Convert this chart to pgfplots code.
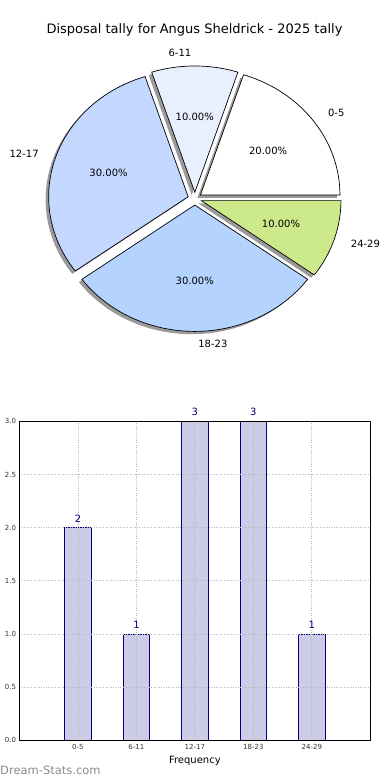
\documentclass[border=0pt]{standalone}
\usepackage{pgfplots}
\pgfplotsset{compat=1.18}
\usepackage{fontspec}
\setmainfont{DejaVu Sans}
\definecolor{cA}{HTML}{FFFFFF}
\definecolor{cB}{HTML}{E8F0FF}
\definecolor{cC}{HTML}{C4D8FF}
\definecolor{cD}{HTML}{B4D4FF}
\definecolor{cE}{HTML}{CDEA8A}
\definecolor{shad}{HTML}{9A9A9A}
\definecolor{barfill}{HTML}{CCCCE6}
\definecolor{baredge}{HTML}{000080}
\definecolor{gridc}{HTML}{B8B8B8}
\begin{document}
\begin{tikzpicture}
\useasboundingbox (0,0) rectangle (390pt,780pt);
% title
\node[font=\fontsize{13}{15}\selectfont] at (194.5pt,750pt) {Disposal tally for Angus Sheldrick - 2025 tally};
% ---------------- pie: counts 2,1,3,3,1 -> 20%,10%,30%,30%,10%
\begin{axis}[
  scale only axis, width=390.6pt, height=353.92pt,
  xmin=-1.4, xmax=1.4, ymin=-1.4, ymax=1.4,
  hide axis, clip=false,
  at={(194.8pt,581.3pt)}, anchor=center,
  every node/.append style={font=\fontsize{10}{12}\selectfont},
]
% shadows
\addplot[draw=none, fill=shad, domain=0:72, samples=60] ({0.0185+cos(x)},{0.0074+sin(x)}) -- (axis cs:0.0185,0.0074) -- cycle;
\addplot[draw=none, fill=shad, domain=72:108, samples=30] ({-0.022+cos(x)},{0.028+sin(x)}) -- (axis cs:-0.022,0.028) -- cycle;
\addplot[draw=none, fill=shad, domain=108:216, samples=80] ({-0.0696+cos(x)},{-0.0066+sin(x)}) -- (axis cs:-0.0696,-0.0066) -- cycle;
\addplot[draw=none, fill=shad, domain=216:324, samples=80] ({-0.022+cos(x)},{-0.072+sin(x)}) -- (axis cs:-0.022,-0.072) -- cycle;
\addplot[draw=none, fill=shad, domain=324:360, samples=30] ({0.0256+cos(x)},{-0.0375+sin(x)}) -- (axis cs:0.0256,-0.0375) -- cycle;
% wedges
\addplot[draw=black, line width=0.7pt, fill=cA, domain=0:72, samples=60] ({0.04045+cos(x)},{0.02939+sin(x)}) -- (axis cs:0.04045,0.02939) -- cycle;
\addplot[draw=black, line width=0.7pt, fill=cB, domain=72:108, samples=30] ({0+cos(x)},{0.05+sin(x)}) -- (axis cs:0,0.05) -- cycle;
\addplot[draw=black, line width=0.7pt, fill=cC, domain=108:216, samples=80] ({-0.04755+cos(x)},{0.01545+sin(x)}) -- (axis cs:-0.04755,0.01545) -- cycle;
\addplot[draw=black, line width=0.7pt, fill=cD, domain=216:324, samples=80] ({0+cos(x)},{-0.05+sin(x)}) -- (axis cs:0,-0.05) -- cycle;
\addplot[draw=black, line width=0.7pt, fill=cE, domain=324:360, samples=30] ({0.04755+cos(x)},{-0.01545+sin(x)}) -- (axis cs:0.04755,-0.01545) -- cycle;
% labels
\node[anchor=west] at (axis cs:0.9304,0.6760) {0-5};
\node[anchor=east] at (axis cs:0.0,1.15) {6-11};
\node[anchor=east] at (axis cs:-1.0937,0.3554) {12-17};
\node[anchor=west] at (axis cs:0.0,-1.15) {18-23};
\node[anchor=west] at (axis cs:1.0937,-0.3554) {24-29};
\node at (axis cs:0.5259,0.3821) {20.00\%};
\node at (axis cs:0.0,0.65) {10.00\%};
\node at (axis cs:-0.6182,0.2009) {30.00\%};
\node at (axis cs:0.0,-0.65) {30.00\%};
\node at (axis cs:0.6182,-0.2009) {10.00\%};
\end{axis}
% ---------------- bar chart
\begin{axis}[
  scale only axis, width=350.8pt, height=319pt,
  at={(19.5pt,39.7pt)}, anchor=south west,
  xmin=-1, xmax=5, ymin=0, ymax=3,
  xtick={0,1,2,3,4},
  xticklabels={0-5,6-11,12-17,18-23,24-29},
  ytick={0,0.5,1,1.5,2,2.5,3},
  /pgf/number format/assume math mode=true,
  yticklabel style={/pgf/number format/.cd, fixed, fixed zerofill, precision=1, assume math mode=true},
  ticklabel style={font=\fontsize{7}{8}\selectfont, text=black!80},
  major tick length=0pt,
  grid=major,
  major grid style={gridc, dotted, line width=0.9pt},
  axis line style={black, line width=0.9pt},
  axis on top,
  clip=false,
  xlabel={Frequency},
  xlabel style={font=\fontsize{10}{12}\selectfont},
]
\addplot[ybar, bar width=0.45, fill=barfill, draw=baredge, line width=0.8pt,
  nodes near coords,
  every node near coord/.append style={font=\fontsize{10}{12}\selectfont, text=baredge, yshift=1.5pt, /pgf/number format/assume math mode=true}]
  coordinates {(0,2) (1,1) (2,3) (3,3) (4,1)};
\end{axis}
\node[anchor=west, font=\fontsize{11.5}{13}\selectfont, text=black!45, inner sep=0pt] at (0pt,10pt) {Dream-Stats.com};
\end{tikzpicture}
\end{document}
